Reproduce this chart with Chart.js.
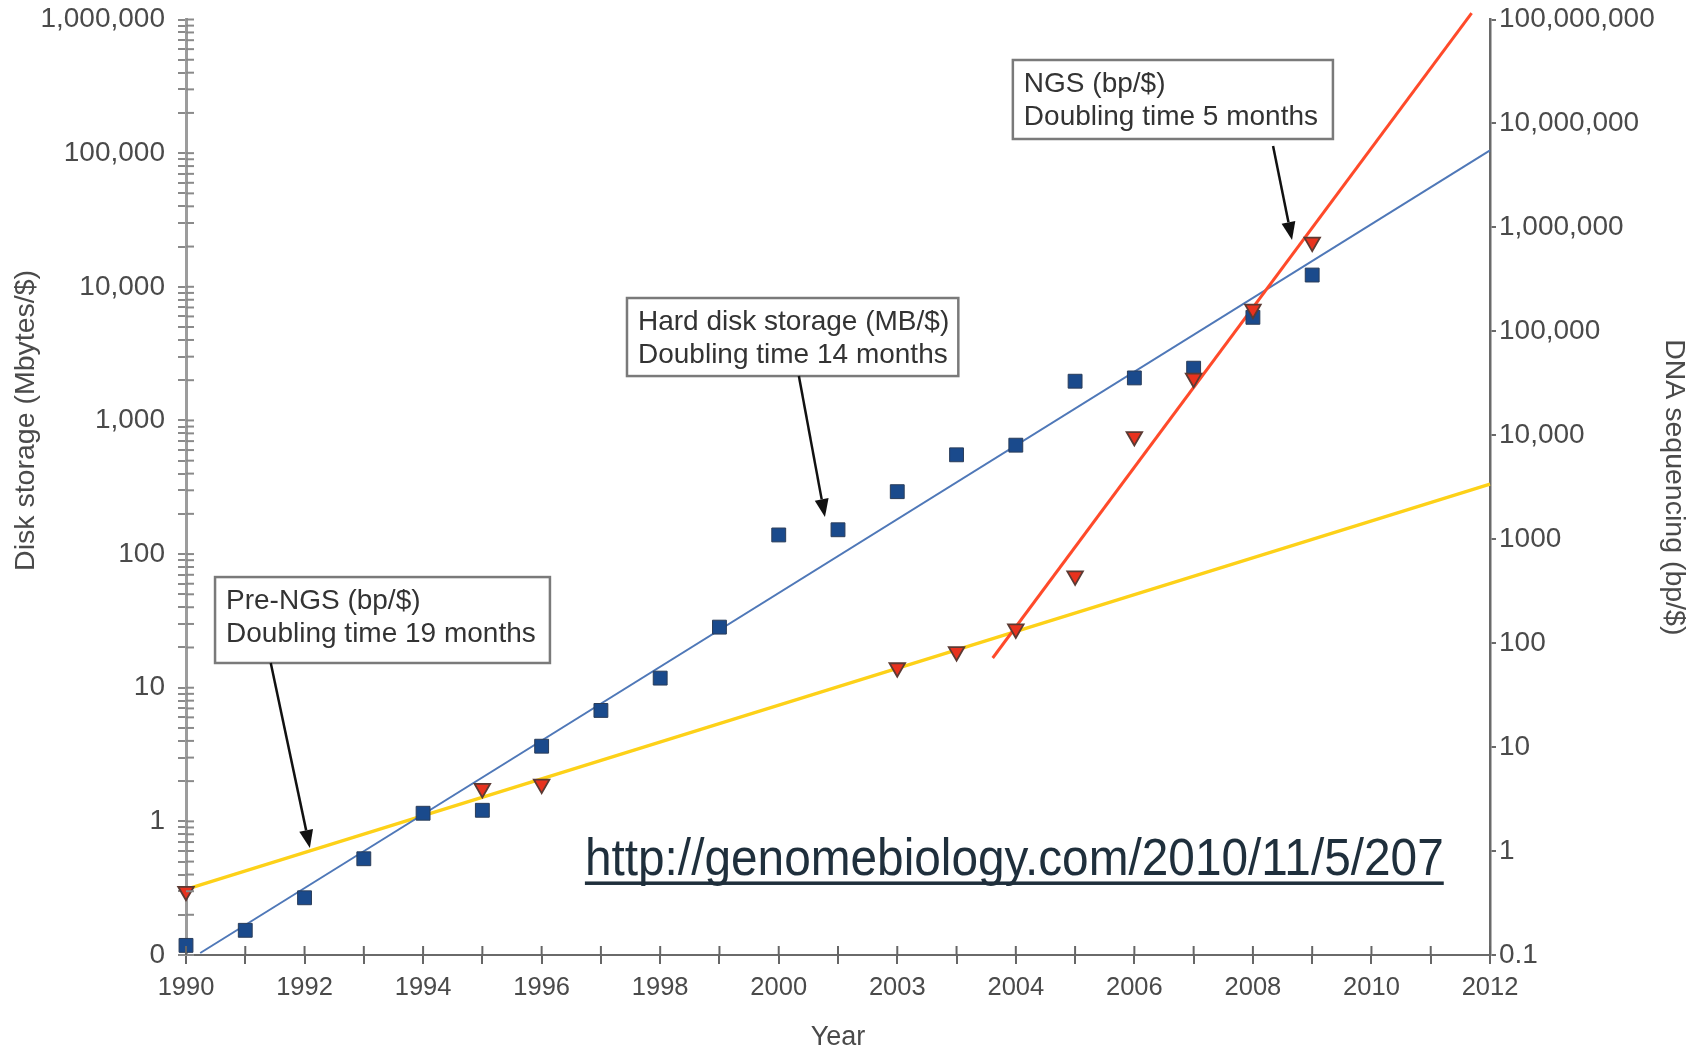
<!DOCTYPE html>
<html>
<head>
<meta charset="utf-8">
<script src="https://cdn.jsdelivr.net/npm/chart.js@4.4.1/dist/chart.umd.min.js"></script>
<style>
  html, body { margin: 0; padding: 0; background: #fff; }
  #wrap { width: 1699px; height: 1050px; position: relative; }
</style>
</head>
<body>
<div id="wrap"><canvas id="myChart"></canvas></div>
<script>
// hard disk storage, MB per dollar (left axis)
const diskYears = [1990, 1991, 1992, 1993, 1994, 1995, 1996, 1997, 1998, 1999, 2000, 2001, 2002, 2003, 2004, 2005, 2006, 2007, 2008, 2009];
const diskMB = [0.118, 0.153, 0.268, 0.525, 1.15, 1.21, 3.65, 6.76, 11.8, 28.4, 139, 152, 293, 553, 653, 1965, 2080, 2460, 5910, 12240];

// DNA sequencing, bp per dollar (right axis)
const dnaYears = [1990, 1995, 1996, 2002, 2003, 2004, 2005, 2006, 2007, 2008, 2009];
const dnaBp = [0.41, 4.0, 4.4, 58, 83, 137, 444, 9720, 35400, 163700, 722000];

// fitted trend lines (end points)
const diskFitYears = [1990.24, 2012];
const diskFit = [0.1035, 105000];
const preNgsFitYears = [1990, 2012];
const preNgsFit = [0.428, 3390];
const ngsFitYears = [2003.61, 2011.69];
const ngsFit = [72, 115000000];

// tick labels
const xTickYears = [1990, 1992, 1994, 1996, 1998, 2000, 2002, 2004, 2006, 2008, 2010, 2012];
const xTickLabels = ['1990', '1992', '1994', '1996', '1998', '2000', '2003', '2004', '2006', '2008', '2010', '2012'];
const leftTickValues = [0.1, 1, 10, 100, 1000, 10000, 100000, 1000000];
const leftTickLabels = ['0', '1', '10', '100', '1,000', '10,000', '100,000', '1,000,000'];
const rightTickValues = [0.1, 1, 10, 100, 1000, 10000, 100000, 1000000, 10000000, 100000000];
const rightTickLabels = ['0.1', '1', '10', '100', '1000', '10,000', '100,000', '1,000,000', '10,000,000', '100,000,000'];

// call-out boxes, placed in data units (year, left-axis value)
const notes = [
  { lines: ['NGS (bp/$)', 'Doubling time 5 months'], x0: 2003.95, x1: 2009.35, top: 497700, bottom: 127600,
    from: [2008.34, 112980], to: [2008.66, 22390] },
  { lines: ['Hard disk storage (MB/$)', 'Doubling time 14 months'], x0: 1997.44, x1: 2003.03, top: 8241, bottom: 2148,
    from: [2000.34, 2148], to: [2000.78, 189.2] },
  { lines: ['Pre-NGS (bp/$)', 'Doubling time 19 months'], x0: 1990.49, x1: 1996.14, top: 67.3, bottom: 15.31,
    from: [1991.43, 15.31], to: [1992.09, 0.632] }
];
const sourceUrl = 'http://genomebiology.com/2010/11/5/207';

const FONT = '"Liberation Sans", Arial, sans-serif';

function pairs(xs, ys) {
  return xs.map((x, i) => ({ x: x, y: ys[i] }));
}
function labelFor(v, vals, labels) {
  for (let i = 0; i < vals.length; i++) {
    if (Math.abs(v / vals[i] - 1) < 1e-9) return labels[i];
  }
  return '';
}

const decor = {
  id: 'decor',
  afterDraw(chart) {
    const { ctx, chartArea, scales } = chart;
    const x = scales.x, y = scales.y;
    ctx.save();

    // inner halves of the tick marks
    ctx.strokeStyle = '#8a8a8a';
    ctx.lineWidth = 2;
    y.ticks.forEach(t => {
      const py = y.getPixelForValue(t.value);
      ctx.beginPath();
      ctx.moveTo(chartArea.left, py);
      ctx.lineTo(chartArea.left + 8, py);
      ctx.stroke();
    });
    ctx.strokeStyle = '#666';
    x.ticks.forEach(t => {
      const px = x.getPixelForValue(t.value);
      ctx.beginPath();
      ctx.moveTo(px, chartArea.bottom);
      ctx.lineTo(px, chartArea.bottom - 9);
      ctx.stroke();
    });

    // call-outs
    notes.forEach(n => {
      const l = x.getPixelForValue(n.x0), r = x.getPixelForValue(n.x1);
      const t = y.getPixelForValue(n.top), b = y.getPixelForValue(n.bottom);
      ctx.fillStyle = '#fff';
      ctx.fillRect(l, t, r - l, b - t);
      ctx.strokeStyle = '#7a7a7a';
      ctx.lineWidth = 2.5;
      ctx.strokeRect(l, t, r - l, b - t);
      ctx.fillStyle = '#333';
      ctx.font = '28px ' + FONT;
      ctx.textAlign = 'left';
      ctx.textBaseline = 'middle';
      ctx.fillText(n.lines[0], l + 11, t + 24, r - l - 18);
      ctx.fillText(n.lines[1], l + 11, t + 57, r - l - 18);

      const fx = x.getPixelForValue(n.from[0]), fy = y.getPixelForValue(n.from[1]);
      const tx = x.getPixelForValue(n.to[0]), ty = y.getPixelForValue(n.to[1]);
      const ang = Math.atan2(ty - fy, tx - fx);
      const len = 18, half = 7;
      const bx = tx - Math.cos(ang) * len, by = ty - Math.sin(ang) * len;
      ctx.strokeStyle = '#111';
      ctx.lineWidth = 2.5;
      ctx.beginPath();
      ctx.moveTo(fx, fy);
      ctx.lineTo(bx, by);
      ctx.stroke();
      ctx.fillStyle = '#111';
      ctx.beginPath();
      ctx.moveTo(tx, ty);
      ctx.lineTo(bx + Math.sin(ang) * half, by - Math.cos(ang) * half);
      ctx.lineTo(bx - Math.sin(ang) * half, by + Math.cos(ang) * half);
      ctx.closePath();
      ctx.fill();
    });

    // source link
    const ul = x.getPixelForValue(1996.73), ur = x.getPixelForValue(2011.22);
    const uy = y.getPixelForValue(0.505), uline = y.getPixelForValue(0.346);
    ctx.fillStyle = '#1f2f3c';
    ctx.font = '52px ' + FONT;
    ctx.textAlign = 'left';
    ctx.textBaseline = 'middle';
    ctx.fillText(sourceUrl, ul, uy, ur - ul);
    ctx.fillRect(ul, uline - 1.5, ur - ul, 3.5);

    // axis titles
    ctx.fillStyle = '#4a4a4a';
    ctx.font = '28.5px ' + FONT;
    ctx.textAlign = 'center';
    ctx.textBaseline = 'middle';
    ctx.save();
    ctx.translate(26, y.getPixelForValue(1000));
    ctx.rotate(-Math.PI / 2);
    ctx.fillText('Disk storage (Mbytes/$)', 0, 0);
    ctx.restore();
    ctx.save();
    ctx.translate(1674, (chartArea.top + chartArea.bottom) / 2);
    ctx.rotate(Math.PI / 2);
    ctx.fillText('DNA sequencing (bp/$)', 0, 0);
    ctx.restore();
    ctx.font = '27px ' + FONT;
    ctx.fillText('Year', (chartArea.left + chartArea.right) / 2, 1038);

    ctx.restore();
  }
};

new Chart('myChart', {
  type: 'scatter',
  data: {
    datasets: [
      {
        label: 'Hard disk storage (MB/$)',
        data: pairs(diskYears, diskMB),
        yAxisID: 'y',
        pointStyle: 'rect',
        pointRadius: 9.8,
        backgroundColor: '#1a4a8c',
        borderColor: '#2a3d5a',
        borderWidth: 1,
        clip: false,
        order: 1
      },
      {
        label: 'DNA sequencing (bp/$)',
        data: pairs(dnaYears, dnaBp),
        yAxisID: 'y2',
        pointStyle: 'triangle',
        rotation: 180,
        pointRadius: 9,
        backgroundColor: '#e8321e',
        borderColor: '#5b3a33',
        borderWidth: 1.8,
        clip: false,
        order: 0
      },
      {
        label: 'Hard disk trend',
        data: pairs(diskFitYears, diskFit),
        yAxisID: 'y',
        showLine: true,
        pointRadius: 0,
        borderColor: '#4f78b8',
        borderWidth: 2,
        clip: false,
        order: 3
      },
      {
        label: 'Pre-NGS trend',
        data: pairs(preNgsFitYears, preNgsFit),
        yAxisID: 'y2',
        showLine: true,
        pointRadius: 0,
        borderColor: '#fdd118',
        borderWidth: 3.2,
        clip: false,
        order: 3
      },
      {
        label: 'NGS trend',
        data: pairs(ngsFitYears, ngsFit),
        yAxisID: 'y2',
        showLine: true,
        pointRadius: 0,
        borderColor: '#ff4a2a',
        borderWidth: 3,
        clip: false,
        order: 2
      }
    ]
  },
  options: {
    responsive: true,
    maintainAspectRatio: false,
    animation: false,
    layout: { padding: { top: 19.5, left: 0, right: 0, bottom: 0 } },
    plugins: {
      legend: { display: false },
      tooltip: { enabled: false }
    },
    scales: {
      x: {
        type: 'linear',
        min: 1990,
        max: 2012,
        afterFit: (s) => { s.height = 95; },
        ticks: {
          stepSize: 1,
          autoSkip: false,
          maxRotation: 0,
          padding: 9,
          color: '#4a4a4a',
          font: { family: FONT, size: 25.5 },
          callback: (v) => labelFor(v, xTickYears, xTickLabels)
        },
        grid: { drawOnChartArea: false, tickLength: 9, color: '#666', lineWidth: 2 },
        border: { color: '#6a6a6a', width: 2 }
      },
      y: {
        type: 'logarithmic',
        position: 'left',
        min: 0.1,
        max: 1000000,
        afterFit: (s) => { s.width = 186; s.paddingTop = 0; s.paddingBottom = 0; },
        afterBuildTicks: (s) => {
          const t = [];
          for (let e = -1; e < 6; e++) {
            for (let m = 1; m < 10; m++) t.push({ value: m * Math.pow(10, e) });
          }
          t.push({ value: 1000000 });
          s.ticks = t;
        },
        ticks: {
          autoSkip: false,
          padding: 13,
          color: '#4a4a4a',
          font: { family: FONT, size: 28 },
          callback: (v) => labelFor(v, leftTickValues, leftTickLabels)
        },
        grid: { drawOnChartArea: false, tickLength: 8, color: '#8a8a8a', lineWidth: 2 },
        border: { color: '#9c9c9c', width: 3 }
      },
      y2: {
        type: 'logarithmic',
        position: 'right',
        min: 0.1,
        max: 100000000,
        afterFit: (s) => { s.width = 209; s.paddingTop = 0; s.paddingBottom = 0; },
        afterBuildTicks: (s) => {
          s.ticks = rightTickValues.map(v => ({ value: v }));
        },
        ticks: {
          autoSkip: false,
          padding: 3,
          color: '#4a4a4a',
          font: { family: FONT, size: 28 },
          callback: (v) => labelFor(v, rightTickValues, rightTickLabels)
        },
        grid: { drawOnChartArea: false, tickLength: 6, color: '#6a6a6a', lineWidth: 2 },
        border: { color: '#6a6a6a', width: 2.5 }
      }
    }
  },
  plugins: [decor]
});
</script>
</body>
</html>
